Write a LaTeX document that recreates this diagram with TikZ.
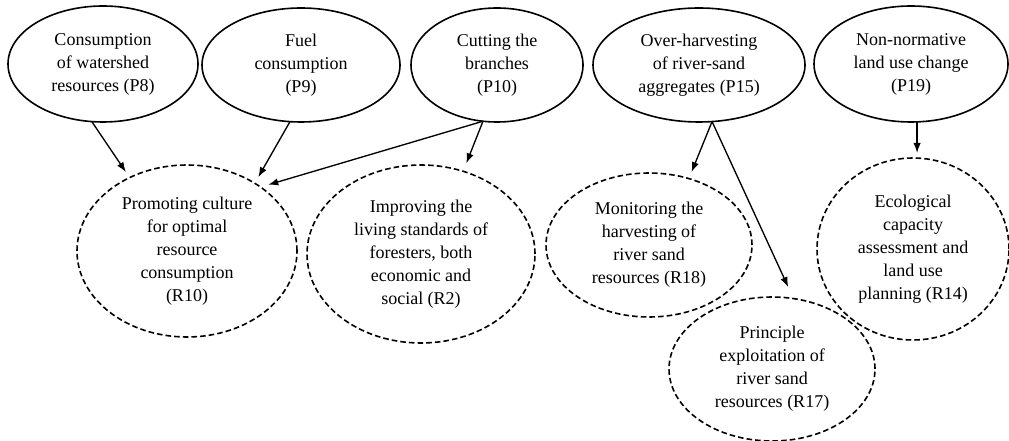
\documentclass[tikz,border=0pt]{standalone}
\usepackage{fontspec}
\setmainfont{Liberation Serif}
\usetikzlibrary{shapes.geometric,arrows.meta}
\begin{document}
\begin{tikzpicture}[x=0.75pt,y=-0.75pt,
  every node/.style={font=\fontsize{13.5}{17.25}\selectfont, align=center, inner sep=0pt, outer sep=0pt},
  cause/.style={ellipse, draw, line width=1.2pt},
  remedy/.style={ellipse, draw, line width=1.2pt, dash pattern=on 4.2pt off 2.3pt},
  arr/.style={line width=1pt, -{Latex[length=7.5pt,width=5.5pt]}}]
\useasboundingbox (0,0) rectangle (1009,441);
% causes
\node[cause, minimum width=142.5pt, minimum height=87pt] (p8) at (103,64) {Consumption\\of watershed\\resources (P8)};
\node[cause, minimum width=148.5pt, minimum height=85.5pt] (p9) at (301,65) {Fuel\\consumption\\(P9)};
\node[cause, minimum width=129pt, minimum height=85.5pt] (p10) at (497,65) {Cutting the\\branches\\(P10)};
\node[cause, minimum width=159pt, minimum height=85.5pt] (p15) at (699,65) {Over-harvesting\\of river-sand\\aggregates (P15)};
\node[cause, minimum width=145.5pt, minimum height=87pt] (p19) at (911,64) {Non-normative\\land use change\\(P19)};
% remedies
\node[remedy, minimum width=165pt, minimum height=129pt] (r10) at (187,251) {Promoting culture\\for optimal\\resource\\consumption\\(R10)};
\node[remedy, minimum width=171pt, minimum height=133.5pt] (r2) at (421,254) {Improving the\\living standards of\\foresters, both\\economic and\\social (R2)};
\node[remedy, minimum width=154.5pt, minimum height=108pt] (r18) at (649,245) {Monitoring the\\harvesting of\\river sand\\resources (R18)};
\node[remedy, minimum width=154.5pt, minimum height=108pt] (r17) at (772,369) {Principle\\exploitation of\\river sand\\resources (R17)};
\node[remedy, minimum width=144pt, minimum height=136.5pt] (r14) at (913,249) {Ecological\\capacity\\assessment and\\land use\\planning (R14)};
% connectors
\draw[arr, shorten >=5pt] (p8.259) -- (r10.128);
\draw[arr, shorten >=5.3pt] (p9.259) -- (r10.45);
\draw[arr, shorten >=6pt] (p10.256) -- (r10.41);
\draw[arr, shorten >=6.5pt] (p10.256) -- (r2.63);
\draw[arr, shorten >=5.3pt] (p15.283) -- (r18.59.5);
\draw[arr, shorten >=9.5pt] (p15.283) -- (r17.73);
\draw[arr, shorten >=3.75pt] (p19.276) -- (p19.276 |- r14.north);
\end{tikzpicture}
\end{document}
